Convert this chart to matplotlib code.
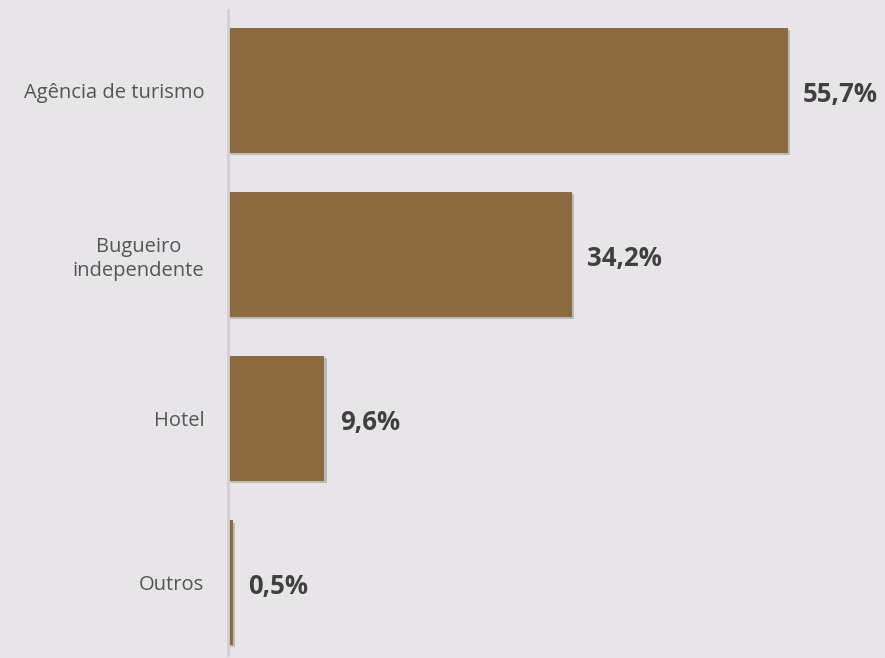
import matplotlib.pyplot as plt
import matplotlib.patheffects as pe

categorias = ["Agência de turismo", "Bugueiro\nindependente", "Hotel", "Outros"]
percentuais = [55.7, 34.2, 9.6, 0.5]
rotulos = ["55,7%", "34,2%", "9,6%", "0,5%"]

fundo = "#E7E5E8"
cor_barra = "#8B6B3D"

fig = plt.figure(figsize=(8.85, 6.58), dpi=100, facecolor=fundo)
ax = fig.add_axes([228 / 885, 3 / 658, 657 / 885, 645 / 658], facecolor=fundo)

posicoes = list(range(len(categorias)))
barras = ax.barh(posicoes, percentuais, height=0.76, color=cor_barra, zorder=2)
for b in barras:
    b.set_path_effects([pe.SimplePatchShadow(offset=(1.5, -1.5), shadow_rgbFace="#5a5550", alpha=0.3),
                        pe.Normal()])

for y, v, txt in zip(posicoes, percentuais, rotulos):
    ax.annotate(txt, (v, y), xytext=(11, -3), textcoords="offset points",
                ha="left", va="center", fontsize=18.5, fontweight="bold",
                color="#404040", family="Open Sans")

ax.set_xlim(0, 65.4)
ax.set_ylim(3.44, -0.49)
ax.set_yticks(posicoes)
ax.set_yticklabels(categorias, fontsize=14.5, color="#555555", family="Open Sans",
                   linespacing=1.25, multialignment="center")
ax.tick_params(axis="y", length=0, pad=17)
ax.set_xticks([])

for lado in ["top", "right", "bottom"]:
    ax.spines[lado].set_visible(False)
ax.spines["left"].set_color("#D2D0D3")
ax.spines["left"].set_linewidth(2)

fig.savefig("out.png", facecolor=fundo)
